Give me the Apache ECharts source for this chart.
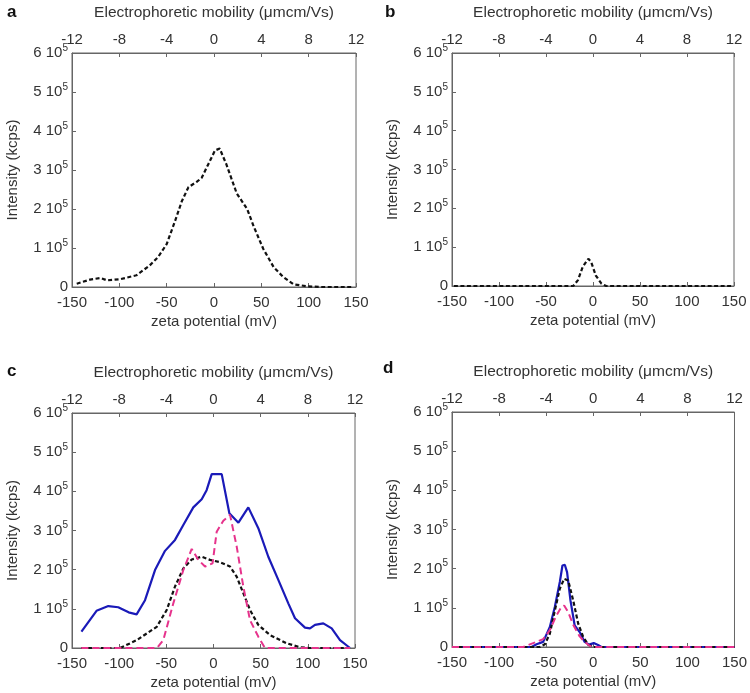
<!DOCTYPE html>
<html>
<head>
<meta charset="utf-8">
<script src="https://cdn.jsdelivr.net/npm/echarts@6/dist/echarts.min.js"></script>
<style>html,body{margin:0;padding:0;background:#fff}#c{width:750px;height:693px}</style>
</head>
<body>
<div id="c"></div>
<script>
// ---- data ----
const panelLetters = ['a', 'b', 'c', 'd'];
const zetaTicks = [-150, -100, -50, 0, 50, 100, 150];
const mobilityTicks = [-12, -8, -4, 0, 4, 8, 12];
const intensityTicks = [0, 100000, 200000, 300000, 400000, 500000, 600000];

// panel a (black dotted)
const aZeta = [-145, -131, -120, -113, -99, -82, -68, -59, -50, -41, -34, -27, -18, -13, -6, 1, 6, 13, 24, 35, 42, 52, 63, 73, 84, 98, 112, 147];
const aInt  = [8500, 19000, 23000, 17000, 20000, 30000, 55000, 77000, 110000, 170000, 220000, 256000, 270000, 280000, 315000, 350000, 355000, 315000, 240000, 200000, 155000, 98000, 51000, 26000, 7000, 2000, 0, 0];

// panel b (black dotted)
const bZeta = [-148, -100, -50, -21, -16, -11, -5, -2, 3, 9, 14, 50, 100, 148];
const bInt  = [0, 0, 0, 0, 15000, 49000, 70000, 62000, 27000, 6000, 0, 0, 0, 0];

// panel c
const cBlueZeta = [-140, -124, -111.5, -101, -90, -81.5, -72.6, -62, -51.4, -40.8, -32, -21.4, -12.5, -7.3, -1.9, 8.7, 16.8, 26.4, 36.9, 47.5, 58.1, 68.7, 79.3, 86.4, 97, 102.3, 107.6, 116.4, 125.3, 134.1, 144.7];
const cBlueInt  = [42000, 95000, 107000, 104000, 91000, 86000, 122000, 199000, 248000, 276000, 314000, 359000, 380000, 403000, 444000, 444000, 344000, 320000, 359000, 306000, 233000, 174000, 114000, 76000, 52000, 50000, 59000, 63000, 50000, 20000, 0];
const cPinkZeta = [-140, -60, -53.2, -42.6, -32, -23.1, -16.1, -9, -1, 3.4, 10.4, 17.5, 24.6, 31.6, 38.7, 47.5, 54.6, 144.7];
const cPinkInt  = [0, 0, 20000, 114000, 199000, 253000, 225000, 208000, 216000, 297000, 325000, 340000, 259000, 157000, 71000, 29000, 0, 0];
const cBlackZeta = [-140, -99, -81.4, -60.2, -49.6, -40.8, -32, -23.1, -12.5, -3.7, 6.9, 17.5, 24.6, 31.6, 38.7, 47.5, 59.9, 77.6, 91.7, 101.6, 144.7];
const cBlackInt  = [0, 0, 20000, 54000, 97000, 157000, 203000, 226000, 233000, 225000, 219000, 208000, 182000, 140000, 97000, 59000, 33000, 12000, 2000, 0, 0];

// panel d
const dBlueZeta = [-150, -65.5, -60.2, -53.2, -46.1, -40.8, -35.5, -32.7, -30.2, -27.8, -24.2, -19.7, -14.4, -9.1, -4.5, 0.5, 5.1, 8.7, 150];
const dBlueInt  = [0, 0, 7000, 13000, 51000, 102000, 166000, 208000, 210000, 191000, 119000, 55000, 38000, 13000, 6000, 10000, 5000, 0, 0];
const dPinkZeta = [-150, -74.4, -63.8, -53.2, -46.1, -39.8, -34.4, -30.9, -26.6, -21.3, -14.4, -9.1, -3.8, 2, 150];
const dPinkInt  = [0, 0, 10000, 20000, 43000, 77000, 100000, 106000, 89000, 57000, 27000, 13000, 3000, 0, 0];
const dBlackZeta = [-150, -56.7, -51.4, -46.1, -40.8, -35.5, -30.9, -26.6, -21.3, -16, -10.7, -5.4, -0.2, 150];
const dBlackInt  = [0, 0, 7000, 34000, 93000, 149000, 174000, 170000, 119000, 60000, 26000, 6000, 0, 0];

// ---- layout & styles ----
const grids = [
  {left: 72, top: 53, width: 284, height: 234},
  {left: 452, top: 53, width: 282, height: 233},
  {left: 72, top: 413, width: 283, height: 235},
  {left: 452, top: 412, width: 283, height: 235}
];
const letterPos = [[12, 13], [390, 13], [12, 372], [388, 369]];
const txt = '#333';
const axisCol = '#666';
const FONT = 'Liberation Sans, Arial, sans-serif';

const styles = {
  black: {color: '#111', width: 2.2, type: [4, 2.5]},
  blue:  {color: '#1a1ab8', width: 2.2, type: 'solid'},
  pink:  {color: '#e6338c', width: 2, type: [7, 4]}
};

const panelSeries = [
  [['black', aZeta, aInt]],
  [['black', bZeta, bInt]],
  [['blue', cBlueZeta, cBlueInt], ['black', cBlackZeta, cBlackInt], ['pink', cPinkZeta, cPinkInt]],
  [['blue', dBlueZeta, dBlueInt], ['black', dBlackZeta, dBlackInt], ['pink', dPinkZeta, dPinkInt]]
];

const zip = (xs, ys) => xs.map((x, i) => [x, ys[i]]);

const xAxis = [], yAxis = [], series = [], graphic = [];
grids.forEach((g, i) => {
  xAxis.push({
    gridIndex: i, type: 'value', position: 'bottom',
    min: zetaTicks[0], max: zetaTicks[zetaTicks.length - 1], interval: 50,
    name: 'zeta potential (mV)', nameLocation: 'middle', nameGap: 27,
    nameTextStyle: {color: txt, fontSize: 15, fontFamily: FONT},
    axisLine: {show: true, onZero: false, lineStyle: {color: axisCol, width: 1}},
    axisTick: {show: true, inside: true, length: 4, lineStyle: {color: axisCol}},
    axisLabel: {color: txt, fontSize: 15, fontFamily: FONT, margin: 8},
    splitLine: {show: false}
  });
  xAxis.push({
    gridIndex: i, type: 'value', position: 'top',
    min: mobilityTicks[0], max: mobilityTicks[mobilityTicks.length - 1], interval: 4,
    name: 'Electrophoretic mobility (μmcm/Vs)', nameLocation: 'middle', nameGap: 32,
    nameTextStyle: {color: txt, fontSize: 15.5, fontFamily: FONT},
    axisLine: {show: true, onZero: false, lineStyle: {color: axisCol, width: 1}},
    axisTick: {show: true, inside: true, length: 4, lineStyle: {color: axisCol}},
    axisLabel: {color: txt, fontSize: 15, fontFamily: FONT, margin: 6},
    splitLine: {show: false}
  });
  yAxis.push({
    gridIndex: i, type: 'value', position: 'left',
    min: intensityTicks[0], max: intensityTicks[intensityTicks.length - 1], interval: 100000,
    name: 'Intensity (kcps)', nameLocation: 'middle', nameGap: 52,
    nameTextStyle: {color: txt, fontSize: 15, fontFamily: FONT},
    axisLine: {show: true, onZero: false, lineStyle: {color: axisCol, width: 1}},
    axisTick: {show: true, inside: true, length: 4, lineStyle: {color: axisCol}},
    axisLabel: {
      margin: 4,
      formatter: v => v === 0 ? '{n|0}' : '{n|' + (v / 100000) + ' 10}{s|5}',
      rich: {
        n: {color: txt, fontSize: 15, fontFamily: FONT},
        s: {color: txt, fontSize: 10, fontFamily: FONT, padding: [0, 0, 10, 0]}
      }
    },
    splitLine: {show: false}
  });
  panelSeries[i].forEach(([st, xs, ys]) => {
    const s = styles[st];
    series.push({
      type: 'line', xAxisIndex: 2 * i, yAxisIndex: i,
      data: zip(xs, ys), showSymbol: false, symbol: 'none', smooth: false,
      lineStyle: {color: s.color, width: s.width, type: s.type},
      silent: true, animation: false
    });
  });
  graphic.push({
    type: 'text', left: letterPos[i][0] - 5, top: letterPos[i][1] - 9,
    style: {text: panelLetters[i], fill: '#111', font: 'bold 17px ' + FONT}
  });
});

const chart = echarts.init(document.getElementById('c'), null, {renderer: 'canvas'});
chart.setOption({
  animation: false,
  backgroundColor: '#fff',
  grid: grids.map(g => Object.assign({show: true, borderColor: axisCol, borderWidth: 1, backgroundColor: 'transparent'}, g)),
  xAxis, yAxis, series, graphic
});
</script>
</body>
</html>
